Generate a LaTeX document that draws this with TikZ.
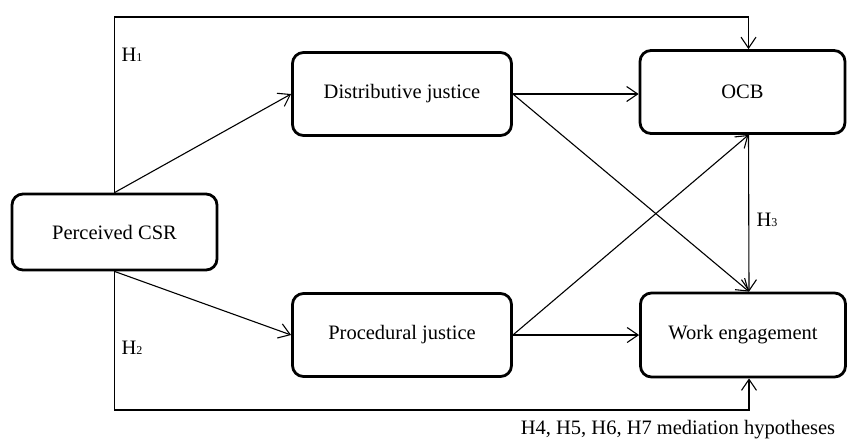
\documentclass[tikz,border=0pt]{standalone}
\usepackage{fontspec}
\setmainfont{Liberation Serif}
\usetikzlibrary{arrows.meta,calc}

\newcommand{\hyp}[1]{H{\fontsize{12}{12}\selectfont #1}}

\begin{document}
\begin{tikzpicture}[x=1pt,y=-1pt,
    box/.style={draw,line width=2.8pt,rounded corners=11pt,inner sep=0pt},
    arr/.style={line width=1.1pt,-{Straight Barb[length=11pt,width=15pt,line width=1.1pt]}},
    lbl/.style={inner sep=0pt}]
    \tikzstyle{every node}+=[font=\fontsize{20.5}{24}\selectfont]
    \useasboundingbox (0,0) rectangle (848,440);
    % boxes
    \node[box,minimum width=205pt,minimum height=76pt] (csr) at (114.5,232) {Perceived CSR};
    \node[box,minimum width=219pt,minimum height=83pt] (dist) at (402,94) {Distributive justice};
    \node[box,minimum width=219pt,minimum height=83pt] (proc) at (402,335) {Procedural justice};
    \node[box,minimum width=205pt,minimum height=83pt] (ocb) at (742.5,92) {OCB};
    \node[box,minimum width=205pt,minimum height=84pt] (we) at (743,335) {Work engagement};
    \coordinate (top) at (0,17);
    \coordinate (bot) at (0,410);
    % direct paths
    \draw[arr] (csr.north) -- (csr.north |- top) -| ([xshift=6pt]ocb.north);
    \draw[arr] (csr.south) -- (csr.south |- bot) -| ([xshift=6pt]we.south);
    \draw[arr] (csr.north) -- (dist.west);
    \draw[arr] (csr.south) -- (proc.west);
    \draw[arr] (dist.east) -- (dist.east -| ocb.west);
    \draw[arr] (dist.east) -- ([xshift=6pt]we.north);
    \draw[arr] (proc.east) -- ([xshift=6pt]ocb.south);
    \draw[arr] (proc.east) -- (we.west);
    \draw[arr] ([xshift=6pt]ocb.south) -- ([xshift=6pt]we.north);
    % labels
    \node[lbl] (h1) at (132,55) {\hyp{1}};
    \node[lbl] (h2) at (132,348) {\hyp{2}};
    \node[lbl] (h3) at (767,220) {\hyp{3}};
    \node[lbl] (med) at (678,430) {H4, H5, H6, H7 mediation hypotheses};
\end{tikzpicture}
\end{document}
